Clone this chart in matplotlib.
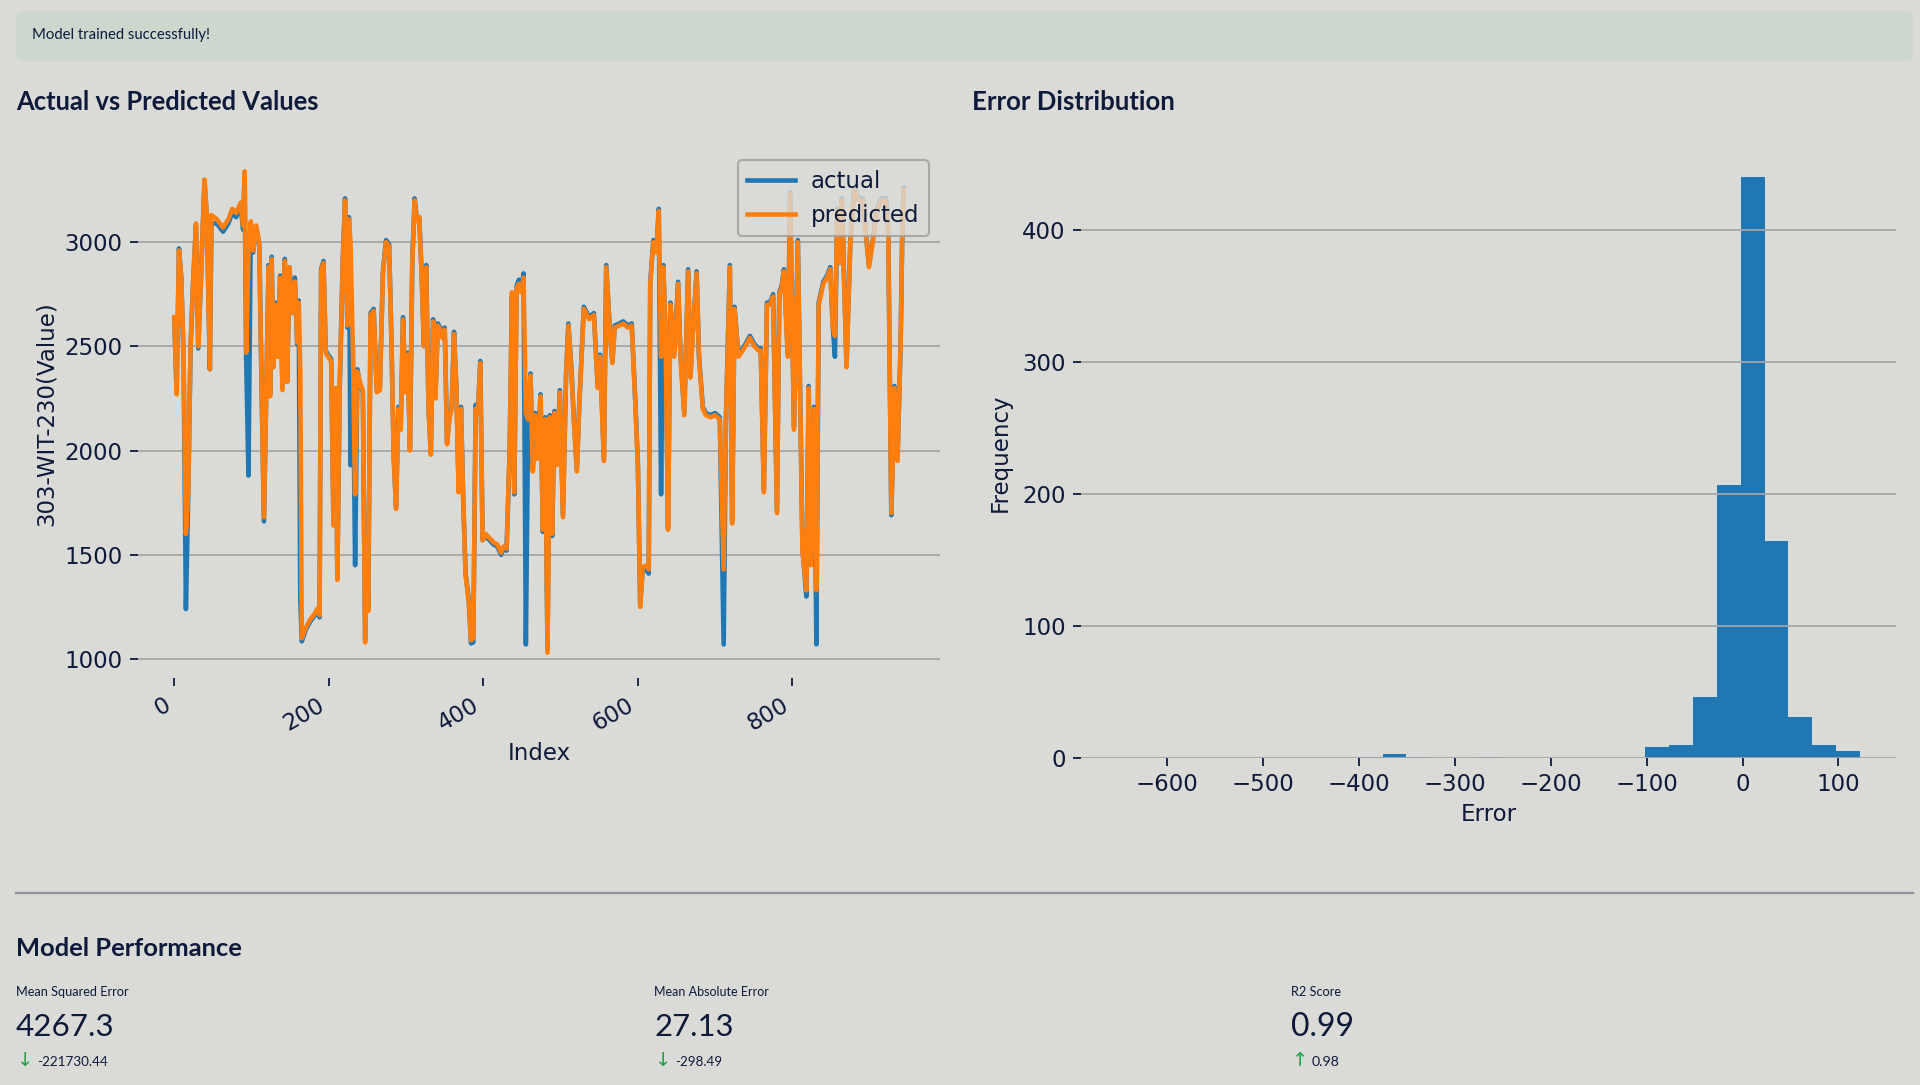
import matplotlib
matplotlib.use('Agg')
import matplotlib.pyplot as plt
from matplotlib.patches import FancyBboxPatch
from matplotlib.transforms import IdentityTransform
from matplotlib.lines import Line2D

# ---------------- data ----------------
index = [0,3,6,9,12,15,18,21,24,28,
         31,35,39,42,46,48,55,63,70,75,
         80,86,89,91,93,96,99,102,106,110,
         113,116,119,122,124,126,128,131,134,137,
         140,143,146,149,152,156,159,161,163,165,
         170,176,182,186,188,190,193,196,199,203,
         206,209,211,214,218,221,224,226,228,231,
         234,237,240,244,247,249,251,254,258,262,
         266,270,274,278,281,284,287,290,293,296,
         299,302,305,308,311,314,317,320,323,326,
         329,332,335,338,341,344,347,350,353,356,
         359,362,365,368,371,374,377,381,384,387,
         390,393,396,399,403,408,413,418,423,426,
         430,434,437,440,443,446,449,452,455,458,
         461,464,467,470,474,477,480,483,486,489,
         492,495,499,503,507,510,514,517,521,524,
         530,537,543,548,551,556,559,564,567,570,
         576,581,587,592,597,600,603,606,611,614,
         616,620,624,627,630,633,636,639,642,647,
         652,655,660,665,668,671,676,679,684,688,
         694,700,706,711,714,719,722,725,730,734,
         739,745,751,756,759,763,767,771,775,780,
         783,786,789,794,797,802,807,813,818,821,
         824,828,831,834,840,845,849,852,855,858,
         861,864,867,870,875,880,886,891,896,899,
         904,909,915,921,924,928,932,936,940,942,
         944]

predicted = [2640,2270,2960,2820,2450,1600,1800,2500,2770,3090,
             2500,2870,3300,3140,2390,3130,3110,3070,3110,3160,
             3140,3190,3080,3340,2470,2950,3100,2960,3080,2990,
             2300,1680,2290,2880,2260,2920,2400,2700,2450,2830,
             2290,2910,2330,2880,2660,2810,2520,2710,2400,1100,
             1150,1190,1220,1245,1210,2860,2900,2470,2450,2430,
             1640,2300,1380,2300,2900,3200,2600,3110,3000,2500,
             1790,2380,2330,2290,1080,1580,1230,2650,2670,2280,
             2290,2850,3000,2980,2520,1960,1720,2200,2100,2630,
             2280,2460,2000,2900,3200,3100,3120,2850,2500,2880,
             2200,1980,2620,2250,2600,2580,2540,2580,2030,2150,
             2200,2560,2300,1800,2200,1750,1400,1280,1090,1100,
             2200,2180,2420,1570,1600,1580,1560,1550,1510,1540,
             1530,2000,2760,1800,2780,2800,2760,2830,2180,2150,
             2360,1900,2170,1960,2260,1620,2150,1030,2160,1600,
             2180,1930,2280,1680,2350,2600,2380,2150,1900,2200,
             2680,2630,2650,2300,2450,1950,2880,2550,2420,2590,
             2600,2610,2590,2600,2200,1920,1250,1440,1450,1430,
             2800,3000,2950,3150,2450,2880,2500,1620,2700,2450,
             2800,2460,2170,2860,2350,2550,2850,2450,2200,2170,
             2160,2170,2150,1430,2150,2880,1650,2680,2450,2470,
             2500,2540,2500,2480,2480,1800,2700,2700,2740,1700,
             2750,2780,2860,2450,3230,2100,3000,1520,1330,2300,
             1450,2200,1330,2700,2800,2830,2870,2600,2550,3150,
             2900,3200,2800,2400,3000,3250,3200,3200,3000,2880,
             3000,3150,3200,3200,3050,1700,2300,1950,2500,3000,
             3250]

actual = [2630,2280,2970,2830,2440,1240,1790,2490,2780,3080,
          2490,2880,3290,3130,2390,3090,3090,3050,3090,3140,
          3120,3170,3060,3330,2440,1880,3090,2950,3070,2990,
          2290,1660,2290,2890,2270,2930,2400,2710,2450,2840,
          2300,2920,2330,2880,2660,2830,2510,2720,1290,1085,
          1140,1180,1210,1240,1200,2870,2910,2480,2460,2440,
          1650,2300,1390,2290,2910,3210,2590,3120,1930,2500,
          1450,2390,2320,2280,1090,1570,1240,2660,2680,2290,
          2300,2860,3010,2990,2530,1970,1730,2210,2110,2640,
          2290,2470,2010,2910,3210,3110,3120,2860,2510,2890,
          2210,1990,2630,2260,2610,2590,2550,2590,2040,2160,
          2210,2570,2310,1810,2210,1760,1410,1290,1075,1080,
          2220,2190,2430,1570,1590,1570,1550,1540,1500,1530,
          1520,1990,2740,1790,2790,2820,2770,2850,1070,2160,
          2370,1910,2180,1970,2270,1610,2160,1050,2170,1590,
          2190,1940,2290,1690,2360,2610,2390,2160,1910,2210,
          2690,2640,2660,2310,2460,1960,2890,2560,2430,2600,
          2610,2620,2600,2610,2210,1930,1260,1420,1430,1410,
          2810,3010,2960,3160,1790,2890,2510,1630,2710,2460,
          2810,2470,2180,2870,2360,2560,2860,2460,2210,2180,
          2170,2180,2160,1070,2160,2890,1660,2690,2460,2480,
          2510,2550,2510,2490,2490,1810,2710,2710,2750,1710,
          2760,2790,2870,2460,3240,2110,3010,1530,1300,2310,
          1460,2210,1070,2710,2810,2840,2880,2610,2450,3160,
          2910,3210,2810,2410,3010,3260,3210,3210,3010,2890,
          3010,3160,3210,3210,3060,1690,2310,1960,2510,3010,
          3260]

line_xticks = [0, 200, 400, 600, 800]
line_yticks = [1000, 1500, 2000, 2500, 3000]

hist_edges = [-624.5, -599.6, -574.7, -549.8, -524.9, -500.0, -475.1, -450.2,
              -425.3, -400.4, -375.5, -350.6, -325.7, -300.8, -275.9, -251.0,
              -226.1, -201.2, -176.3, -151.4, -126.5, -101.6, -76.7, -51.8,
              -26.9, -2.0, 22.9, 47.8, 72.7, 97.6, 122.5]
hist_counts = [0, 0, 0, 0, 0, 0, 0, 0, 0, 1, 3, 1, 0, 0, 1,
               0, 0, 0, 0, 0, 0, 8, 10, 46, 207, 440, 164, 31, 10, 5]
hist_xticks = [-600, -500, -400, -300, -200, -100, 0, 100]
hist_yticks = [0, 100, 200, 300, 400]

metric_names = ["Mean Squared Error", "Mean Absolute Error", "R2 Score"]
metric_values = ["4267.3", "27.13", "0.99"]
metric_deltas = ["-221730.44", "-298.49", "0.98"]
metric_up = [False, False, True]

# ---------------- style ----------------
W, H = 1920, 1085
BG = '#dadad6'
NAVY = '#0e1a3c'
GREEN = '#1fa34a'
BLUE = '#1f77b4'
ORANGE = '#ff7f0e'
FS = 16.5

fig = plt.figure(figsize=(W / 100, H / 100), dpi=100, facecolor=BG)
renderer = fig.canvas.get_renderer()


def fx(x):
    return x / W


def fy(y):
    return 1 - y / H


def fit_text(x, y, s, width, weight='normal', color=NAVY, family='Lato', size0=20):
    t = fig.text(fx(x), fy(y), s, ha='left', va='center', fontsize=size0,
                 family=family, fontweight=weight, color=color)
    w = t.get_window_extent(renderer).width
    t.set_fontsize(size0 * width / w)
    return t


# success banner
banner = FancyBboxPatch((16, H - 61), 1897, 50,
                        boxstyle='round,pad=0,rounding_size=8',
                        transform=IdentityTransform(), fc='#ccd8cd', ec='none')
fig.add_artist(banner)
fit_text(32, 35, "Model trained successfully!", 178)

# section titles
fit_text(16, 102, "Actual vs Predicted Values", 303, weight='bold')
fit_text(972, 102, "Error Distribution", 203, weight='bold')

# divider
fig.add_artist(Line2D([fx(16), fx(1913)], [fy(893), fy(893)],
                      transform=fig.transFigure, color='#8e939b', lw=1.6))
fit_text(16, 949, "Model Performance", 226, weight='bold')

# metrics
col_x = [16, 654, 1291]
name_w = [114, 115, 50]
val_w = [98, 79, 63]
delta_w = [71, 47, 28]
for i in range(3):
    x0 = col_x[i]
    fit_text(x0, 992, metric_names[i], name_w[i])
    fit_text(x0, 1027, metric_values[i], val_w[i])
    fig.text(fx(x0 + 1), fy(1061), '↑' if metric_up[i] else '↓', ha='left', va='center',
             fontsize=14, family='DejaVu Sans', color=GREEN)
    fit_text(x0 + 21, 1062, metric_deltas[i], delta_w[i])

# ---------------- axes ----------------
ax1 = fig.add_axes([fx(138), fy(678), (940 - 138) / W, (678 - 149) / H])
ax2 = fig.add_axes([fx(1081), fy(758), (1896 - 1081) / W, (758 - 148) / H])

for ax in (ax1, ax2):
    ax.set_facecolor(BG)
    for s in ax.spines.values():
        s.set_visible(False)
    ax.grid(axis='y', color='#a6a6a6', linewidth=1.3)
    ax.tick_params(length=5.5, width=1.3, color=NAVY, labelcolor=NAVY,
                   labelsize=FS, pad=5.5)

ax1.plot(index, actual, color=BLUE, lw=3.3, label='actual')
ax1.plot(index, predicted, color=ORANGE, lw=3.3, label='predicted')
ax1.set_xlim(-47, 991)
ax1.set_ylim(909, 3447)
ax1.set_xticks(line_xticks)
ax1.set_yticks(line_yticks)
plt.setp(ax1.get_xticklabels(), rotation=30, ha='right')
ax1.set_xlabel('Index', fontsize=FS, color=NAVY)
ax1.set_ylabel('303-WIT-230(Value)', fontsize=FS, color=NAVY)
ax1.xaxis.set_label_coords(0.5, -0.121)
ax1.yaxis.set_label_coords(-0.100, 0.5)
leg = ax1.legend(loc='upper right', fontsize=FS, frameon=True, edgecolor='#9c9c9c',
                 facecolor=BG, framealpha=0.8, handlelength=2.1, handletextpad=0.7)
leg.get_frame().set_linewidth(1.5)
for t in leg.get_texts():
    t.set_color(NAVY)

ax2.hist(hist_edges[:-1], bins=hist_edges, weights=hist_counts, color=BLUE)
ax2.set_xlim(-690, 160)
ax2.set_ylim(0, 462)
ax2.set_xticks(hist_xticks)
ax2.set_yticks(hist_yticks)
ax2.set_xlabel('Error', fontsize=FS, color=NAVY)
ax2.set_ylabel('Frequency', fontsize=FS, color=NAVY)
ax2.xaxis.set_label_coords(0.5, -0.074)
ax2.yaxis.set_label_coords(-0.0847, 0.5)

fig.savefig('out.png', dpi=100, facecolor=BG)
